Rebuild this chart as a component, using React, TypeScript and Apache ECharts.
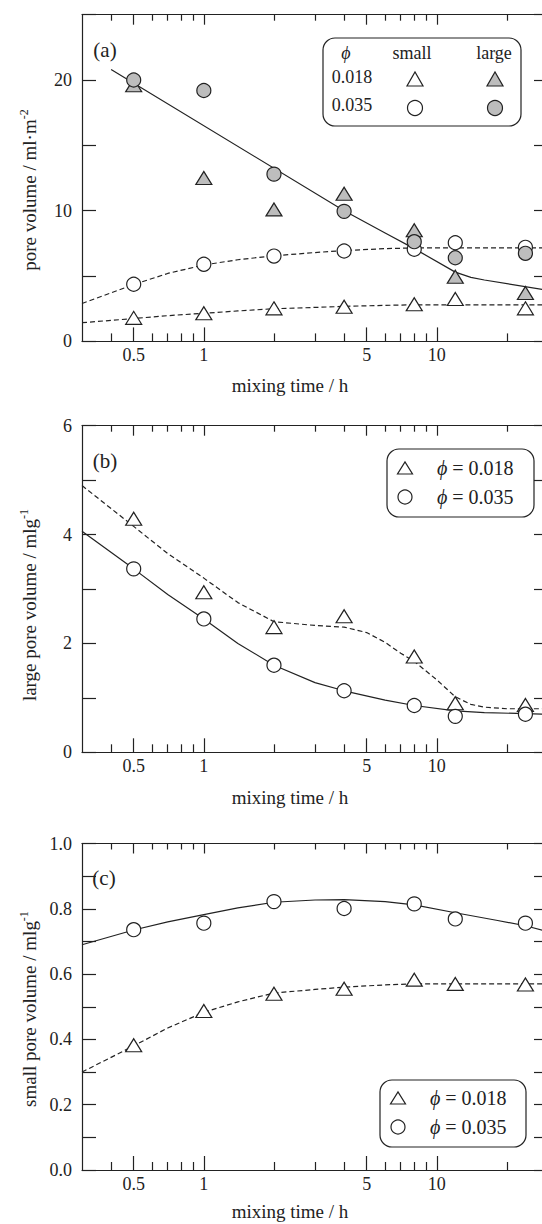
import React, { useEffect, useRef } from 'react';
import * as echarts from 'echarts';

// ---------- data ----------
const times = [0.5, 1, 2, 4, 8, 12, 24];
const xTickMajor = [0.5, 1, 5, 10];
const xTickLabels = ['0.5', '1', '5', '10'];
const xTickMinor = [0.4, 0.6, 0.7, 0.8, 0.9, 2, 3, 4, 6, 7, 8, 9, 20];

// panel (a) pore volume / ml·m-2
const aSmall018 = [1.8, 2.15, 2.53, 2.65, 2.84, 3.24, 2.53];
const aSmall035 = [4.37, 5.9, 6.53, 6.92, 7.05, 7.55, 7.2];
const aLarge018 = [19.6, 12.5, 10.1, 11.3, 8.5, 4.95, 3.7];
const aLarge035 = [20.0, 19.2, 12.8, 9.95, 7.63, 6.4, 6.74];
const aFitLargeX = [0.4, 4, 6, 8, 12, 14, 16, 30];
const aFitLargeY = [20.8, 10.0, 8.3, 7.1, 5.3, 4.9, 4.7, 3.9];
const aFitSmall035X = [0.3, 0.5, 0.7, 1, 1.4, 2, 3, 4, 6, 8, 30];
const aFitSmall035Y = [2.9, 4.35, 5.2, 5.85, 6.25, 6.55, 6.8, 6.95, 7.1, 7.15, 7.15];
const aFitSmall018X = [0.3, 0.5, 0.7, 1, 1.4, 2, 3, 4, 6, 8, 30];
const aFitSmall018Y = [1.43, 1.75, 1.97, 2.15, 2.33, 2.5, 2.6, 2.68, 2.76, 2.8, 2.8];

// panel (b) large pore volume / mlg-1
const bLarge018 = [4.29, 2.94, 2.3, 2.5, 1.76, 0.9, 0.87];
const bLarge035 = [3.37, 2.45, 1.6, 1.13, 0.86, 0.66, 0.7];
const bFit018X = [0.3, 0.5, 0.7, 1, 1.4, 2, 3, 4, 5, 6, 7, 8, 10, 12, 14, 16, 20, 30];
const bFit018Y = [4.9, 4.15, 3.65, 3.2, 2.75, 2.4, 2.33, 2.3, 2.2, 2.02, 1.82, 1.67, 1.33, 1.02, 0.88, 0.83, 0.8, 0.8];
const bFit035X = [0.3, 0.5, 0.7, 1, 1.4, 2, 3, 4, 6, 8, 12, 16, 24, 30];
const bFit035Y = [4.06, 3.37, 2.9, 2.45, 2.0, 1.6, 1.28, 1.13, 0.96, 0.86, 0.76, 0.73, 0.71, 0.7];

// panel (c) small pore volume / mlg-1
const cSmall018 = [0.382, 0.487, 0.54, 0.555, 0.583, 0.57, 0.568];
const cSmall035 = [0.736, 0.756, 0.822, 0.801, 0.815, 0.769, 0.756];
const cFit035X = [0.3, 0.5, 0.7, 1, 1.4, 2, 3, 4, 6, 8, 12, 18, 24, 30];
const cFit035Y = [0.69, 0.735, 0.76, 0.782, 0.803, 0.82, 0.827, 0.828, 0.822, 0.812, 0.788, 0.765, 0.748, 0.73];
const cFit018X = [0.3, 0.5, 0.7, 1, 1.4, 2, 3, 4, 6, 8, 30];
const cFit018Y = [0.3, 0.38, 0.435, 0.483, 0.515, 0.542, 0.553, 0.56, 0.567, 0.57, 0.57];

const yLabelsA = [0, 10, 20];
const yLabelsB = [0, 2, 4, 6];
const yLabelsC = [0, 0.2, 0.4, 0.6, 0.8, 1.0];

// ---------- style ----------
const FONT = "'Liberation Serif', 'Times New Roman', serif";
const INK = '#222';
const GREY = '#bdbdbd';

const zip = (xs: number[], ys: number[]) => xs.map((x, i) => [x, ys[i]]);

function App() {
  const ref = useRef<HTMLDivElement>(null);
  useEffect(() => {
    if (!ref.current) return;
    const chart = echarts.init(ref.current, null, { renderer: 'svg' });

    const grids = [
      { left: 82, top: 14.7, width: 466, height: 326.7 },
      { left: 82, top: 425.7, width: 466, height: 326.6 },
      { left: 82, top: 843.5, width: 466, height: 326.5 },
    ].map((g) => ({ ...g, outerBoundsMode: 'none', containLabel: false }));

    const xAxes: any[] = [];
    const yAxes: any[] = [];
    const yConf = [
      { min: 0, max: 25, interval: 5, labels: yLabelsA, fmt: (v: number) => String(v) },
      { min: 0, max: 6, interval: 1, labels: yLabelsB, fmt: (v: number) => String(v) },
      { min: 0, max: 1, interval: 0.1, labels: yLabelsC, fmt: (v: number) => v.toFixed(1) },
    ];
    const line = { lineStyle: { color: INK, width: 1.2 } };
    grids.forEach((_, gi) => {
      const base = {
        type: 'log',
        logBase: 10,
        min: 0.3,
        max: 30,
        gridIndex: gi,
        splitLine: { show: false },
        minorTick: { show: false },
      };
      xAxes.push({
        ...base,
        position: 'bottom',
        axisLine: { show: true, ...line },
        axisTick: { show: true, inside: true, length: 14, customValues: xTickMajor, ...line },
        axisLabel: {
          show: true,
          customValues: xTickMajor,
          formatter: (v: number) => {
            const i = xTickMajor.findIndex((t) => Math.abs(t - v) < 1e-6);
            return i >= 0 ? xTickLabels[i] : '';
          },
          fontSize: 18,
          color: INK,
          fontFamily: FONT,
          margin: 5,
        },
      });
      xAxes.push({
        ...base,
        position: 'bottom',
        axisLine: { show: false },
        axisTick: { show: true, inside: true, length: 8, customValues: xTickMinor, ...line },
        axisLabel: { show: false },
      });
      xAxes.push({
        ...base,
        position: 'top',
        axisLine: { show: true, ...line },
        axisTick: { show: true, inside: true, length: 10, customValues: xTickMajor, ...line },
        axisLabel: { show: false },
      });
      xAxes.push({
        ...base,
        position: 'top',
        axisLine: { show: false },
        axisTick: { show: true, inside: true, length: 6, customValues: xTickMinor, ...line },
        axisLabel: { show: false },
      });
      const yc = yConf[gi];
      const ybase = {
        type: 'value',
        min: yc.min,
        max: yc.max,
        interval: yc.interval,
        gridIndex: gi,
        splitLine: { show: false },
      };
      yAxes.push({
        ...ybase,
        position: 'left',
        axisLine: { show: true, ...line },
        axisTick: { show: true, inside: true, length: 14, ...line },
        axisLabel: {
          show: true,
          fontSize: 18,
          color: INK,
          fontFamily: FONT,
          margin: 10,
          formatter: (v: number) =>
            yc.labels.some((l) => Math.abs(l - v) < 1e-9) ? yc.fmt(v) : '',
        },
      });
      yAxes.push({
        ...ybase,
        position: 'right',
        axisLine: { show: true, ...line },
        axisTick: { show: true, inside: true, length: 14, ...line },
        axisLabel: { show: false },
      });
    });

    const fit = (gi: number, xs: number[], ys: number[], dashed: boolean) => ({
      type: 'line',
      xAxisIndex: gi * 4,
      yAxisIndex: gi * 2,
      data: zip(xs, ys),
      showSymbol: false,
      symbol: 'none',
      smooth: false,
      z: 1,
      lineStyle: { color: INK, width: 1.2, type: dashed ? [5, 3] : 'solid' },
      silent: true,
    });
    const pts = (gi: number, ys: number[], tri: boolean, filled: boolean, z = 3) => ({
      type: 'scatter',
      xAxisIndex: gi * 4,
      yAxisIndex: gi * 2,
      data: zip(times, ys),
      symbol: tri ? 'triangle' : 'circle',
      symbolSize: tri ? [16, 13] : 14,
      z,
      itemStyle: { color: filled ? GREY : '#fff', borderColor: INK, borderWidth: 1.2, opacity: 1 },
      silent: true,
    });

    const series = [
      fit(0, aFitLargeX, aFitLargeY, false),
      fit(0, aFitSmall035X, aFitSmall035Y, true),
      fit(0, aFitSmall018X, aFitSmall018Y, true),
      pts(0, aSmall018, true, false, 3),
      pts(0, aSmall035, false, false, 3),
      pts(0, aLarge018, true, true, 4),
      pts(0, aLarge035, false, true, 5),
      fit(1, bFit018X, bFit018Y, true),
      fit(1, bFit035X, bFit035Y, false),
      pts(1, bLarge018, true, false),
      pts(1, bLarge035, false, false),
      fit(2, cFit035X, cFit035Y, false),
      fit(2, cFit018X, cFit018Y, true),
      pts(2, cSmall018, true, false),
      pts(2, cSmall035, false, false),
    ];

    const txt = (x: number, y: number, text: string, size = 18, extra: any = {}) => ({
      type: 'text',
      x,
      y,
      z: 100,
      style: {
        text,
        fontSize: size,
        fontFamily: FONT,
        fill: INK,
        align: 'center',
        verticalAlign: 'middle',
        ...extra,
      },
    });
    const yTitle = (x: number, y: number, main: string, sup: string) => ({
      type: 'text',
      x,
      y,
      rotation: Math.PI / 2,
      z: 100,
      style: {
        text: `{m|${main}}{s|${sup}}`,
        align: 'center',
        verticalAlign: 'middle',
        rich: {
          m: { fontSize: 19, fontFamily: FONT, fill: INK, color: INK, lineHeight: 22 },
          s: { fontSize: 12, fontFamily: FONT, fill: INK, color: INK, verticalAlign: 'top', lineHeight: 22 },
        },
      },
    });
    const tri = (cx: number, cy: number, w: number, h: number, fill: string) => ({
      type: 'polygon',
      z: 101,
      shape: { points: [[cx - w / 2, cy + h / 2], [cx + w / 2, cy + h / 2], [cx, cy - h / 2]] },
      style: { fill, stroke: INK, lineWidth: 1.2 },
    });
    const circ = (cx: number, cy: number, r: number, fill: string) => ({
      type: 'circle',
      z: 101,
      shape: { cx, cy, r },
      style: { fill, stroke: INK, lineWidth: 1.2 },
    });
    const box = (x: number, y: number, w: number, h: number) => ({
      type: 'rect',
      z: 99,
      shape: { x, y, width: w, height: h, r: 12 },
      style: { fill: '#fff', stroke: INK, lineWidth: 1.2 },
    });
    const phiText = (x: number, y: number, val: string) => ({
      type: 'text',
      x,
      y,
      z: 101,
      style: {
        text: `{i|ϕ}{n| = ${val}}`,
        align: 'left',
        verticalAlign: 'middle',
        rich: {
          i: { fontSize: 20, fontFamily: FONT, fontStyle: 'italic', fill: INK, color: INK },
          n: { fontSize: 20, fontFamily: FONT, fill: INK, color: INK },
        },
      },
    });

    const graphic = [
      // axis titles
      txt(290, 385, 'mixing time / h', 19),
      txt(290, 797, 'mixing time / h', 19),
      txt(290, 1211, 'mixing time / h', 19),
      yTitle(29, 190, 'pore volume / ml·m', '-2'),
      yTitle(29, 605, 'large pore volume / mlg', '-1'),
      yTitle(29, 1009, 'small pore volume / mlg', '-1'),
      // panel tags
      txt(105, 50, '(a)', 21),
      txt(105, 461, '(b)', 21),
      txt(104, 878, '(c)', 21),
      // legend (a)
      box(323, 38, 198, 88),
      txt(346, 53, 'ϕ', 18, { fontStyle: 'italic' }),
      txt(412, 53, 'small', 18),
      txt(494, 53, 'large', 18),
      txt(352, 77, '0.018', 18),
      txt(352, 105, '0.035', 18),
      tri(415, 79, 16, 14, '#fff'),
      tri(495, 79, 16, 14, GREY),
      circ(415, 108, 7.5, '#fff'),
      circ(495, 108, 7.5, GREY),
      // legend (b)
      box(387, 449, 147, 68),
      tri(405, 468, 15, 12, '#fff'),
      circ(405, 497, 7, '#fff'),
      phiText(437, 468, '0.018'),
      phiText(437, 497, '0.035'),
      // legend (c)
      box(380, 1080, 146, 67),
      tri(398, 1098, 15, 12, '#fff'),
      circ(398, 1127, 7, '#fff'),
      phiText(430, 1098, '0.018'),
      phiText(430, 1127, '0.035'),
    ];

    chart.setOption({
      animation: false,
      backgroundColor: '#fff',
      textStyle: { fontFamily: FONT },
      grid: grids,
      xAxis: xAxes,
      yAxis: yAxes,
      series,
      graphic,
    });
    return () => chart.dispose();
  }, []);
  return (
    <div
      ref={ref}
      style={{ position: 'absolute', left: 0, top: 0, width: 542, height: 1224, background: '#fff' }}
    />
  );
}

export default App;
